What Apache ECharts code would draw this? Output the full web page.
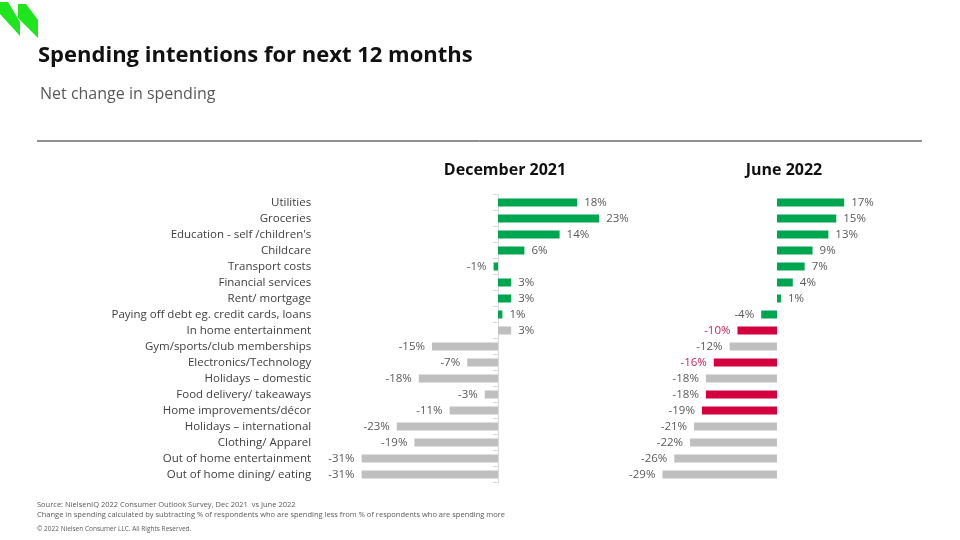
<!DOCTYPE html>
<html>
<head>
<meta charset="utf-8">
<script src="https://cdn.jsdelivr.net/npm/echarts@6/dist/echarts.min.js"></script>
<style>html,body{margin:0;padding:0;background:#fff}#chart{width:960px;height:540px}</style>
</head>
<body>
<div id="chart"></div>
<script>
const categories = [
  "Utilities", "Groceries", "Education - self /children's", "Childcare", "Transport costs",
  "Financial services", "Rent/ mortgage", "Paying off debt eg. credit cards, loans",
  "In home entertainment", "Gym/sports/club memberships", "Electronics/Technology",
  "Holidays \u2013 domestic", "Food delivery/ takeaways", "Home improvements/d\u00e9cor",
  "Holidays \u2013 international", "Clothing/ Apparel", "Out of home entertainment",
  "Out of home dining/ eating"
];
const dec2021 = [18, 23, 14, 6, -1, 3, 3, 1, 3, -15, -7, -18, -3, -11, -23, -19, -31, -31];
const jun2022 = [17, 15, 13, 9, 7, 4, 1, -4, -10, -12, -16, -18, -18, -19, -21, -22, -26, -29];
// g = green, n = neutral grey, r = red
const decTone = ["g","g","g","g","g","g","g","g","n","n","n","n","n","n","n","n","n","n"];
const junTone = ["g","g","g","g","g","g","g","g","r","n","r","n","r","r","n","n","n","n"];
// which labels are printed in red
const junRedLabel = [8, 10];

const FONT = "Open Sans";
const TONES = { g: "#00a64f", n: "#bfbfbf", r: "#d3023f" };

function toData(values, tones, redLabels) {
  return values.map((v, i) => ({
    value: v,
    itemStyle: { color: TONES[tones[i]] },
    label: {
      color: redLabels.includes(i) ? "#c8235a" : "#595959",
      position: v < 0 ? "left" : "right"
    }
  }));
}

function seriesFor(idx, values, tones, redLabels) {
  return {
    type: "bar",
    xAxisIndex: idx,
    yAxisIndex: idx * 2,
    barWidth: 8,
    data: toData(values, tones, redLabels),
    label: {
      show: true,
      formatter: (p) => p.value + "%",
      fontFamily: FONT,
      fontSize: 11.5,
      distance: 7
    },
    animation: false
  };
}

const catAxisBase = { type: "category", data: categories, inverse: true };

const chart = echarts.init(document.getElementById("chart"));

chart.setOption({
  backgroundColor: "#fff",
  textStyle: { fontFamily: FONT },
  title: [
    { text: "Spending intentions for next 12 months", left: 33, top: 40,
      textStyle: { fontSize: 22, fontWeight: "bold", color: "#111", fontFamily: FONT } },
    { text: "Net change in spending", left: 35, top: 81,
      textStyle: { fontSize: 16, fontWeight: "normal", color: "#595959", fontFamily: FONT } },
    { text: "December 2021", left: 500, top: 157, textAlign: "center",
      textStyle: { fontSize: 16, fontWeight: "bold", color: "#111", fontFamily: FONT } },
    { text: "June 2022", left: 779, top: 157, textAlign: "center",
      textStyle: { fontSize: 16, fontWeight: "bold", color: "#111", fontFamily: FONT } }
  ],
  graphic: [
    { type: "polygon", shape: { points: [[0, 2], [8, 2], [20, 22], [20, 36], [0, 14]] }, style: { fill: "#1ee51e" } },
    { type: "polygon", shape: { points: [[18, 4], [26, 4], [38, 20], [38, 38], [18, 18]] }, style: { fill: "#1ee51e" } },
    { type: "line", shape: { x1: 37, y1: 141, x2: 922, y2: 141 }, style: { stroke: "#222", lineWidth: 1 } },
    { type: "text", left: 37, top: 501, style: { text: "Source: NielsenIQ 2022 Consumer Outlook Survey, Dec 2021  vs June 2022", fontSize: 7.5, fill: "#595959", fontFamily: FONT } },
    { type: "text", left: 37, top: 511, style: { text: "Change in spending calculated by subtracting % of respondents who are spending less from % of respondents who are spending more", fontSize: 7.5, fill: "#595959", fontFamily: FONT } },
    { type: "text", left: 37, top: 526, style: { text: "\u00a9 2022 Nielsen Consumer LLC. All Rights Reserved.", fontSize: 6.5, fill: "#595959", fontFamily: FONT } }
  ],
  grid: [
    { left: 357.2, width: 246.4, top: 194.5, height: 288 },
    { left: 658.5, width: 189.6, top: 194.5, height: 288 }
  ],
  xAxis: [
    { type: "value", gridIndex: 0, min: -32, max: 24, show: false },
    { type: "value", gridIndex: 1, min: -30, max: 18, show: false }
  ],
  yAxis: [
    Object.assign({}, catAxisBase, {
      gridIndex: 0,
      axisLine: { show: true, onZero: true, lineStyle: { color: "#d9d9d9" } },
      axisTick: { show: true, lineStyle: { color: "#d9d9d9" } },
      axisLabel: { show: false }
    }),
    Object.assign({}, catAxisBase, {
      gridIndex: 0,
      position: "left",
      axisLine: { show: false, onZero: false },
      axisTick: { show: false },
      axisLabel: { show: true, margin: 46, fontSize: 11.5, color: "#404040", fontFamily: FONT }
    }),
    Object.assign({}, catAxisBase, {
      gridIndex: 1,
      axisLine: { show: false },
      axisTick: { show: false },
      axisLabel: { show: false }
    })
  ],
  series: [
    seriesFor(0, dec2021, decTone, []),
    seriesFor(1, jun2022, junTone, junRedLabel)
  ]
});
</script>
</body>
</html>
